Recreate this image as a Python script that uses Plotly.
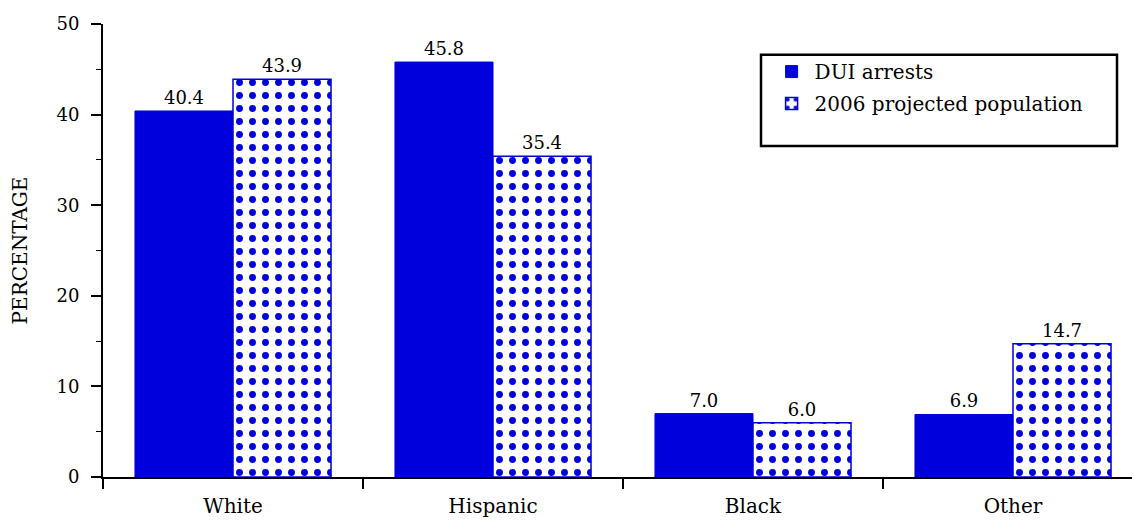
import plotly.graph_objects as go

categories = ["White", "Hispanic", "Black", "Other"]
dui_arrests = [40.4, 45.8, 7.0, 6.9]
projected_population = [43.9, 35.4, 6.0, 14.7]
series_names = ["DUI arrests", "2006 projected population"]
y_ticks = [0, 10, 20, 30, 40, 50]

BLUE = "#0000dd"
FONT = "DejaVu Serif"

fig = go.Figure()
fig.add_trace(go.Bar(
    x=categories, y=dui_arrests, name=series_names[0], legendgroup="a",
    marker=dict(color=BLUE, line=dict(color=BLUE, width=1)),
    text=[f"{v:.1f}" for v in dui_arrests], textposition="outside",
    textfont=dict(family=FONT, size=18, color="black"), cliponaxis=False,
))
fig.add_trace(go.Bar(
    x=categories, y=projected_population, name=series_names[1], legendgroup="b",
    marker=dict(color="white", line=dict(color=BLUE, width=1.5),
                pattern=dict(shape=".", fgcolor=BLUE, fgopacity=1, bgcolor="white",
                             size=13, solidity=0.22, fillmode="overlay")),
    text=[f"{v:.1f}" for v in projected_population], textposition="outside",
    textfont=dict(family=FONT, size=18, color="black"), cliponaxis=False,
))

# legend frame
fig.add_shape(type="rect", xref="paper", yref="paper",
              x0=0.6327, x1=0.975, y0=0.7309, y1=0.9322,
              line=dict(color="black", width=2.5), fillcolor="rgba(0,0,0,0)",
              layer="above")

fig.update_layout(
    width=1140, height=520,
    margin=dict(l=95, r=5, t=12, b=51),
    paper_bgcolor="white", plot_bgcolor="white",
    barmode="group", bargap=0.246, bargroupgap=0,
    font=dict(family=FONT, size=18, color="black"),
    showlegend=True,
    legend=dict(
        x=0.64, y=0.938, xanchor="left", yanchor="top",
        borderwidth=0, bgcolor="rgba(0,0,0,0)",
        font=dict(family=FONT, size=20, color="black"),
        traceorder="grouped", tracegroupgap=3, itemwidth=36,
    ),
    xaxis=dict(
        range=[-0.5, 3.5], showline=True, linecolor="black", linewidth=2,
        ticks="outside", tickson="boundaries", ticklen=10, tickwidth=2,
        tickcolor="black", tickfont=dict(family=FONT, size=20),
        ticklabelstandoff=10,
        showgrid=False, zeroline=False, fixedrange=True,
    ),
    yaxis=dict(
        range=[0, 50], tickvals=y_ticks, showline=True, linecolor="black",
        linewidth=2, ticks="outside", ticklen=10, tickwidth=2, tickcolor="black",
        tickfont=dict(family=FONT, size=18), ticklabelstandoff=8,
        ticklabeloverflow="allow",
        minor=dict(dtick=5, ticks="outside", ticklen=5, tickwidth=1, tickcolor="black"),
        showgrid=False, zeroline=False,
        title=dict(text="PERCENTAGE", font=dict(family=FONT, size=20), standoff=27),
    ),
)

fig.write_html("out.html")
